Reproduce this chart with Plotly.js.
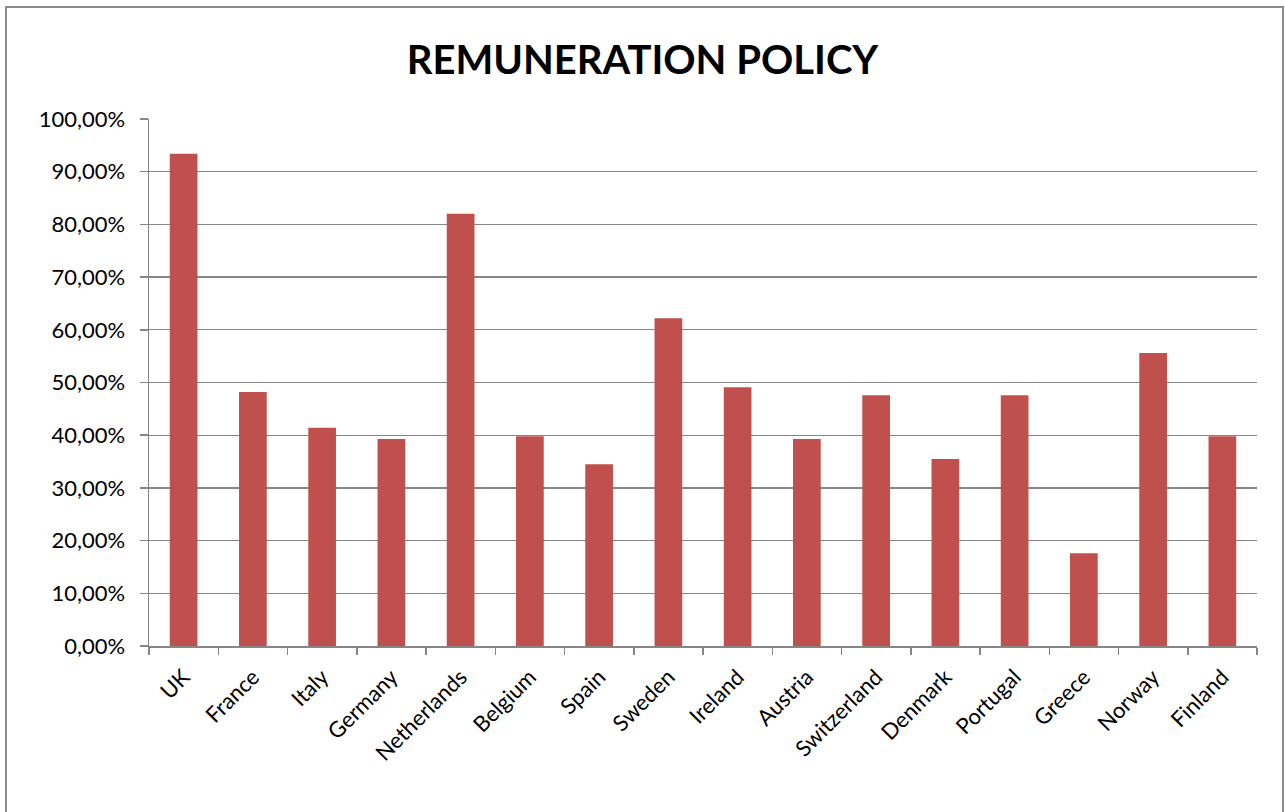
<!DOCTYPE html>
<html>
<head>
<meta charset="utf-8">
<script src="https://cdn.plot.ly/plotly-3.0.1.min.js"></script>
<style>
  html, body { margin: 0; padding: 0; background: #fff; }
  #chart { width: 1285px; height: 812px; }
</style>
</head>
<body>
<div id="chart"></div>
<script>
const countries = ["UK", "France", "Italy", "Germany", "Netherlands", "Belgium", "Spain", "Sweden", "Ireland", "Austria", "Switzerland", "Denmark", "Portugal", "Greece", "Norway", "Finland"];
const shares = [0.934, 0.482, 0.414, 0.393, 0.820, 0.398, 0.345, 0.622, 0.491, 0.393, 0.476, 0.355, 0.476, 0.176, 0.556, 0.398];
const yTicks = [0, 0.1, 0.2, 0.3, 0.4, 0.5, 0.6, 0.7, 0.8, 0.9, 1.0];
const chartTitle = "REMUNERATION POLICY";

const trace = {
  type: "bar",
  x: countries,
  y: shares,
  marker: { color: "#C0504D", line: { width: 0 } },
  hoverinfo: "x+y"
};

const gray = "#868686";
const layout = {
  width: 1285,
  height: 812,
  paper_bgcolor: "#ffffff",
  plot_bgcolor: "#ffffff",
  margin: { l: 149, r: 28, t: 119, b: 166 },
  showlegend: false,
  bargap: 0.6,
  font: { family: "Lato, 'Open Sans', sans-serif", color: "#000" },
  separators: ", ",
  title: {
    text: "<b>" + chartTitle + "</b>",
    x: 0.5, xref: "container", xanchor: "center",
    y: 1 - 60 / 812, yref: "container", yanchor: "middle",
    font: { family: "Lato, 'Open Sans', sans-serif", size: 40, color: "#000" }
  },
  xaxis: {
    type: "category",
    tickangle: -45,
    ticks: "outside",
    tickson: "boundaries",
    ticklen: 7,
    tickcolor: gray,
    tickwidth: 1.5,
    showline: true,
    linecolor: gray,
    linewidth: 1.5,
    showgrid: false,
    ticklabelstandoff: 8,
    tickfont: { size: 22, color: "#000" },
    range: [-0.5, 15.5]
  },
  yaxis: {
    range: [0, 1],
    tickvals: yTicks,
    tickformat: ".2%",
    ticks: "outside",
    ticklen: 8,
    tickcolor: gray,
    tickwidth: 1.5,
    showline: true,
    linecolor: gray,
    linewidth: 1.5,
    showgrid: true,
    gridcolor: gray,
    gridwidth: 1.3,
    zeroline: false,
    ticklabelstandoff: 10,
    tickfont: { size: 22, color: "#000" }
  },
  shapes: [{
    type: "rect",
    xref: "paper", yref: "paper",
    x0: (6 - 149) / 1108, x1: (1283 - 149) / 1108,
    y0: (646 - 840) / 527, y1: (646 - 7) / 527,
    line: { color: "#8c8c8c", width: 2 },
    fillcolor: "rgba(0,0,0,0)",
    layer: "below"
  }]
};

Plotly.newPlot("chart", [trace], layout, { displayModeBar: false, staticPlot: true });
</script>
</body>
</html>
